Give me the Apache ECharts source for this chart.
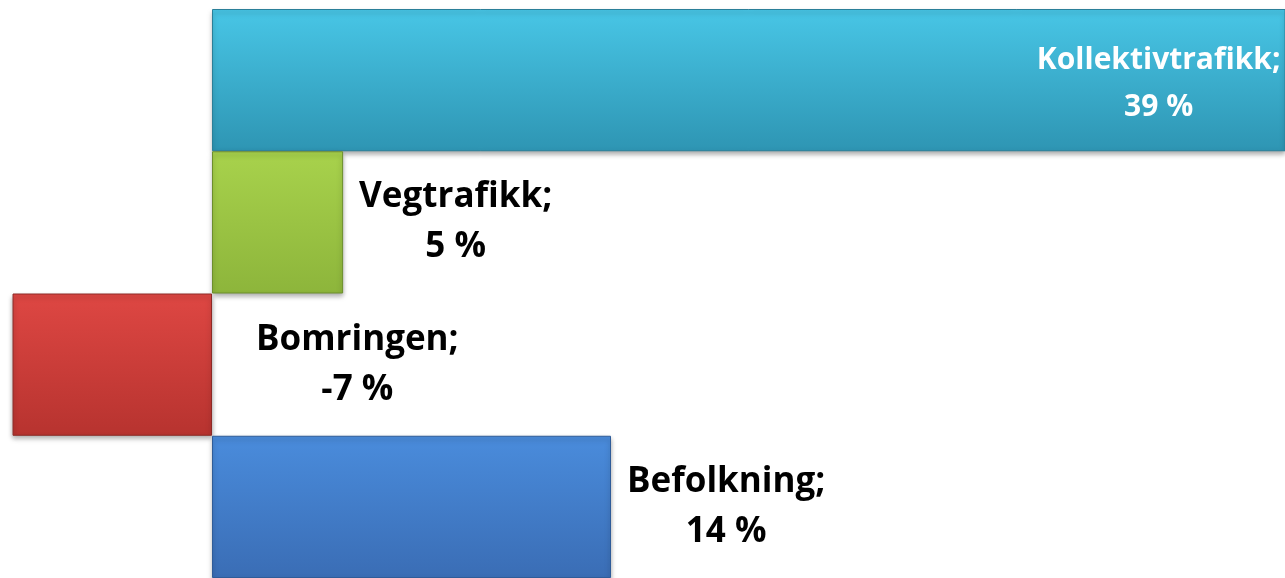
<!DOCTYPE html>
<html>
<head>
<meta charset="utf-8">
<script src="https://cdn.jsdelivr.net/npm/echarts@6/dist/echarts.min.js"></script>
<style>
  html, body { margin: 0; padding: 0; background: #fff; }
  #main { width: 1285px; height: 578px; }
</style>
</head>
<body>
<div id="main"></div>
<script>
const categories = ["Kollektivtrafikk", "Vegtrafikk", "Bomringen", "Befolkning"];
const values = [39, 4.6, -7, 14];
const topColors = ["#48c6e6", "#a8d24c", "#de4743", "#4a8cdc"];
const bottomColors = ["#2e95b3", "#8db53b", "#b7332f", "#3a6db5"];
const edgeColors = ["#2a7f99", "#6c8f2c", "#8d2a26", "#2f5c99"];

document.addEventListener("DOMContentLoaded", function () {
  const chart = echarts.init(document.getElementById("main"));

  const data = values.map((v, i) => {
    const inside = i === 0;
    return {
      value: v,
      itemStyle: {
        color: new echarts.graphic.LinearGradient(0, 0, 0, 1, [
          { offset: 0, color: topColors[i] },
          { offset: 1, color: bottomColors[i] },
        ]),
        borderColor: edgeColors[i],
        borderWidth: 1,
      },
      label: {
        position: inside ? "insideRight" : "right",
        distance: inside ? 5 : i === 2 ? 44 : 16,
        offset: inside ? [0, 4] : [0, 0],
        rich: {
          c: {
            align: "center",
            color: inside ? "#ffffff" : "#000000",
            fontSize: inside ? 30 : 35,
            lineHeight: inside ? 47 : 50,
            fontWeight: "bold",
            fontFamily: "Open Sans",
          },
        },
      },
    };
  });

  const option = {
    animation: false,
    grid: { left: 0, top: 9, width: 1285, height: 572 },
    xAxis: {
      type: "value",
      min: -7.44,
      max: 37.65,
      show: false,
    },
    yAxis: {
      type: "category",
      data: categories,
      inverse: true,
      show: false,
    },
    series: [
      {
        type: "bar",
        data: data,
        barCategoryGap: "0%",
        clip: true,
        itemStyle: {
          shadowBlur: 5,
          shadowOffsetY: 3,
          shadowColor: "rgba(0,0,0,0.35)",
        },
        label: {
          show: true,
          formatter: (p) => "{c|" + p.name + ";}\n{c|" + Math.round(p.value) + " %}",
        },
      },
    ],
  };

  chart.setOption(option);
});
</script>
</body>
</html>
